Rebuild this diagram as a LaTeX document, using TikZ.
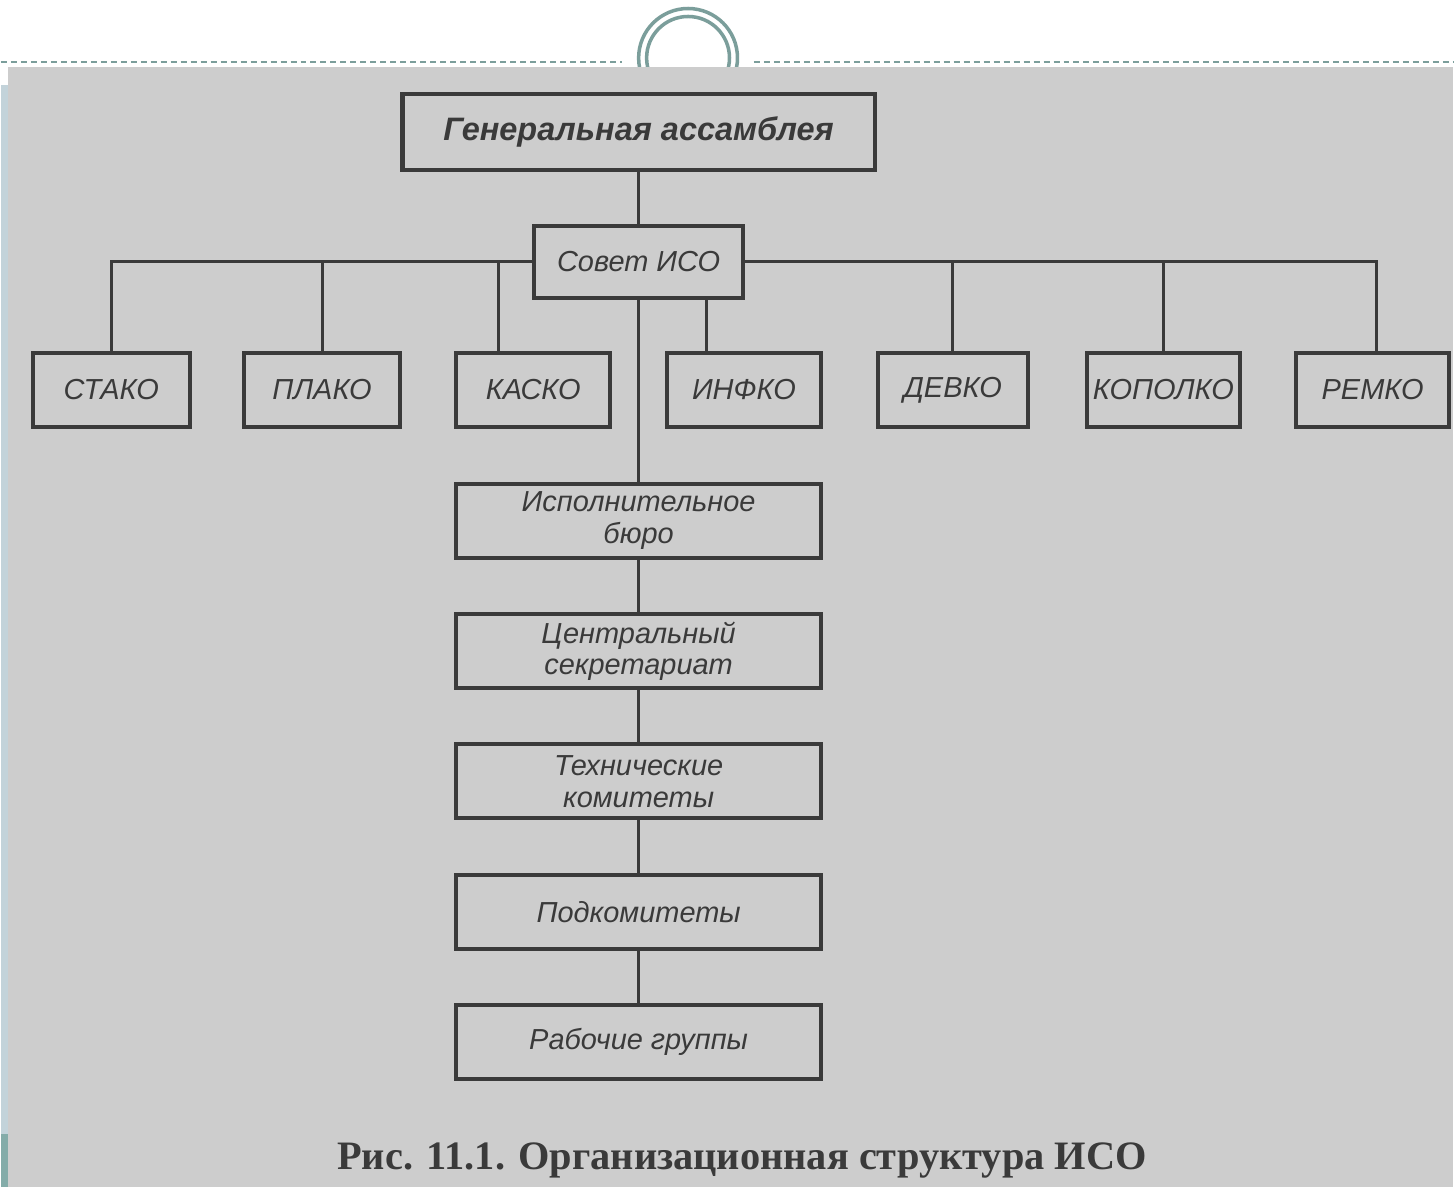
\documentclass[tikz,border=0pt]{standalone}
\usepackage{fontspec}
\newfontfamily\orgfont{Liberation Sans}
\newfontfamily\capfont{Liberation Serif}
\definecolor{scangray}{HTML}{CDCDCD}
\definecolor{inkgray}{HTML}{3A3A3A}
\definecolor{slideteal}{HTML}{7B9E9B}
\definecolor{stripblue}{HTML}{C3D3DA}
\definecolor{stripteal}{HTML}{84ACA9}

\begin{document}
\begin{tikzpicture}[x=0.02cm, y=-0.02cm,
					node distance=2.61cm,
					line width=1.7pt,
					inkgray,
					org node/.style={rectangle,draw,line width=2.3pt,inner sep=0pt,text=inkgray,align=center,
						font=\orgfont\itshape\fontsize{16.5}{18}\selectfont},
					com node/.style={org node,minimum height=1.5cm},
					chain node/.style={org node,minimum width=7.32cm,minimum height=1.48cm},
					elbow/.style={to path={-| (\tikztotarget)}}]

  % slide frame and scanned page
  \fill[white] (0,0) rectangle (1454,1189);
  \draw[slideteal,line width=1.1pt,dash pattern=on 0.12cm off 0.08cm] (0,62) -- (622,62) (754,62) -- (1454,62);
  \draw[slideteal,line width=2pt] (688,58) circle[radius=0.99cm] (688,58) circle[radius=0.83cm];
  \fill[scangray] (7,67) rectangle (1454,1189);
  \fill[stripblue] (0,85) rectangle (7,1135);
  \fill[stripteal] (0,1135) rectangle (7,1189);
  \useasboundingbox (0,0) rectangle (1454,1189);

  \node[org node,minimum width=9.46cm,minimum height=1.52cm,font=\orgfont\bfseries\itshape\fontsize{18.5}{20}\selectfont] (gen) at (638.5,132) {Генеральная ассамблея};
  \node[org node,minimum width=4.18cm,minimum height=1.44cm] (sovet) at (638.5,262) {Совет ИСО};

  \node[com node,minimum width=3.14cm] (stako) at (110.5,390.5) {СТАКО};
  \node[com node,minimum width=3.14cm] (plako) at (321.5,390.5) {ПЛАКО};
  \node[com node,minimum width=3.08cm] (kasko) at (533,390.5) {КАСКО};
  \node[com node,minimum width=3.08cm] (infko) at (744,390.5) {ИНФКО};
  \node[com node,minimum width=3.00cm] (devko) at (953,390.5) {ДЕВКО};
  \node[com node,minimum width=3.08cm] (kopolko) at (1164,390.5) {КОПОЛКО};
  \node[com node,minimum width=3.06cm] (remko) at (1373.5,390.5) {РЕМКО};

  \node[chain node] (bureau) at (638.5,521.5) {Исполнительное\\бюро};
  \node[chain node] (secretariat) [below of=bureau] {Центральный\\секретариат};
  \node[chain node] (techcom) [below of=secretariat] {Технические\\комитеты};
  \node[chain node] (subcom) [below of=techcom] {Подкомитеты};
  \node[chain node] (workgroups) [below of=subcom] {Рабочие группы};

  \node[font=\capfont\bfseries\fontsize{23}{27}\selectfont,text=inkgray] (caption) at (742,1162) {Рис. 11.1. Организационная структура ИСО};

  \coordinate (kaskoup) at ([xshift=-0.7cm]kasko.north);
  \coordinate (infkoup) at ([xshift=-0.76cm]infko.north);

  \path (gen) edge (sovet)
    (sovet) edge (bureau)
    (bureau) edge (secretariat)
    (secretariat) edge (techcom)
    (techcom) edge (subcom)
    (subcom) edge (workgroups)
    (sovet.west) edge[elbow] (stako.north)
        edge[elbow] (plako.north)
        edge[elbow] (kaskoup)
    (sovet.east) edge[elbow] (devko.north)
        edge[elbow] (kopolko.north)
        edge[elbow] ([xshift=0.07cm]remko.north)
    (infkoup) edge (infkoup |- sovet.south);
\end{tikzpicture}
\end{document}
